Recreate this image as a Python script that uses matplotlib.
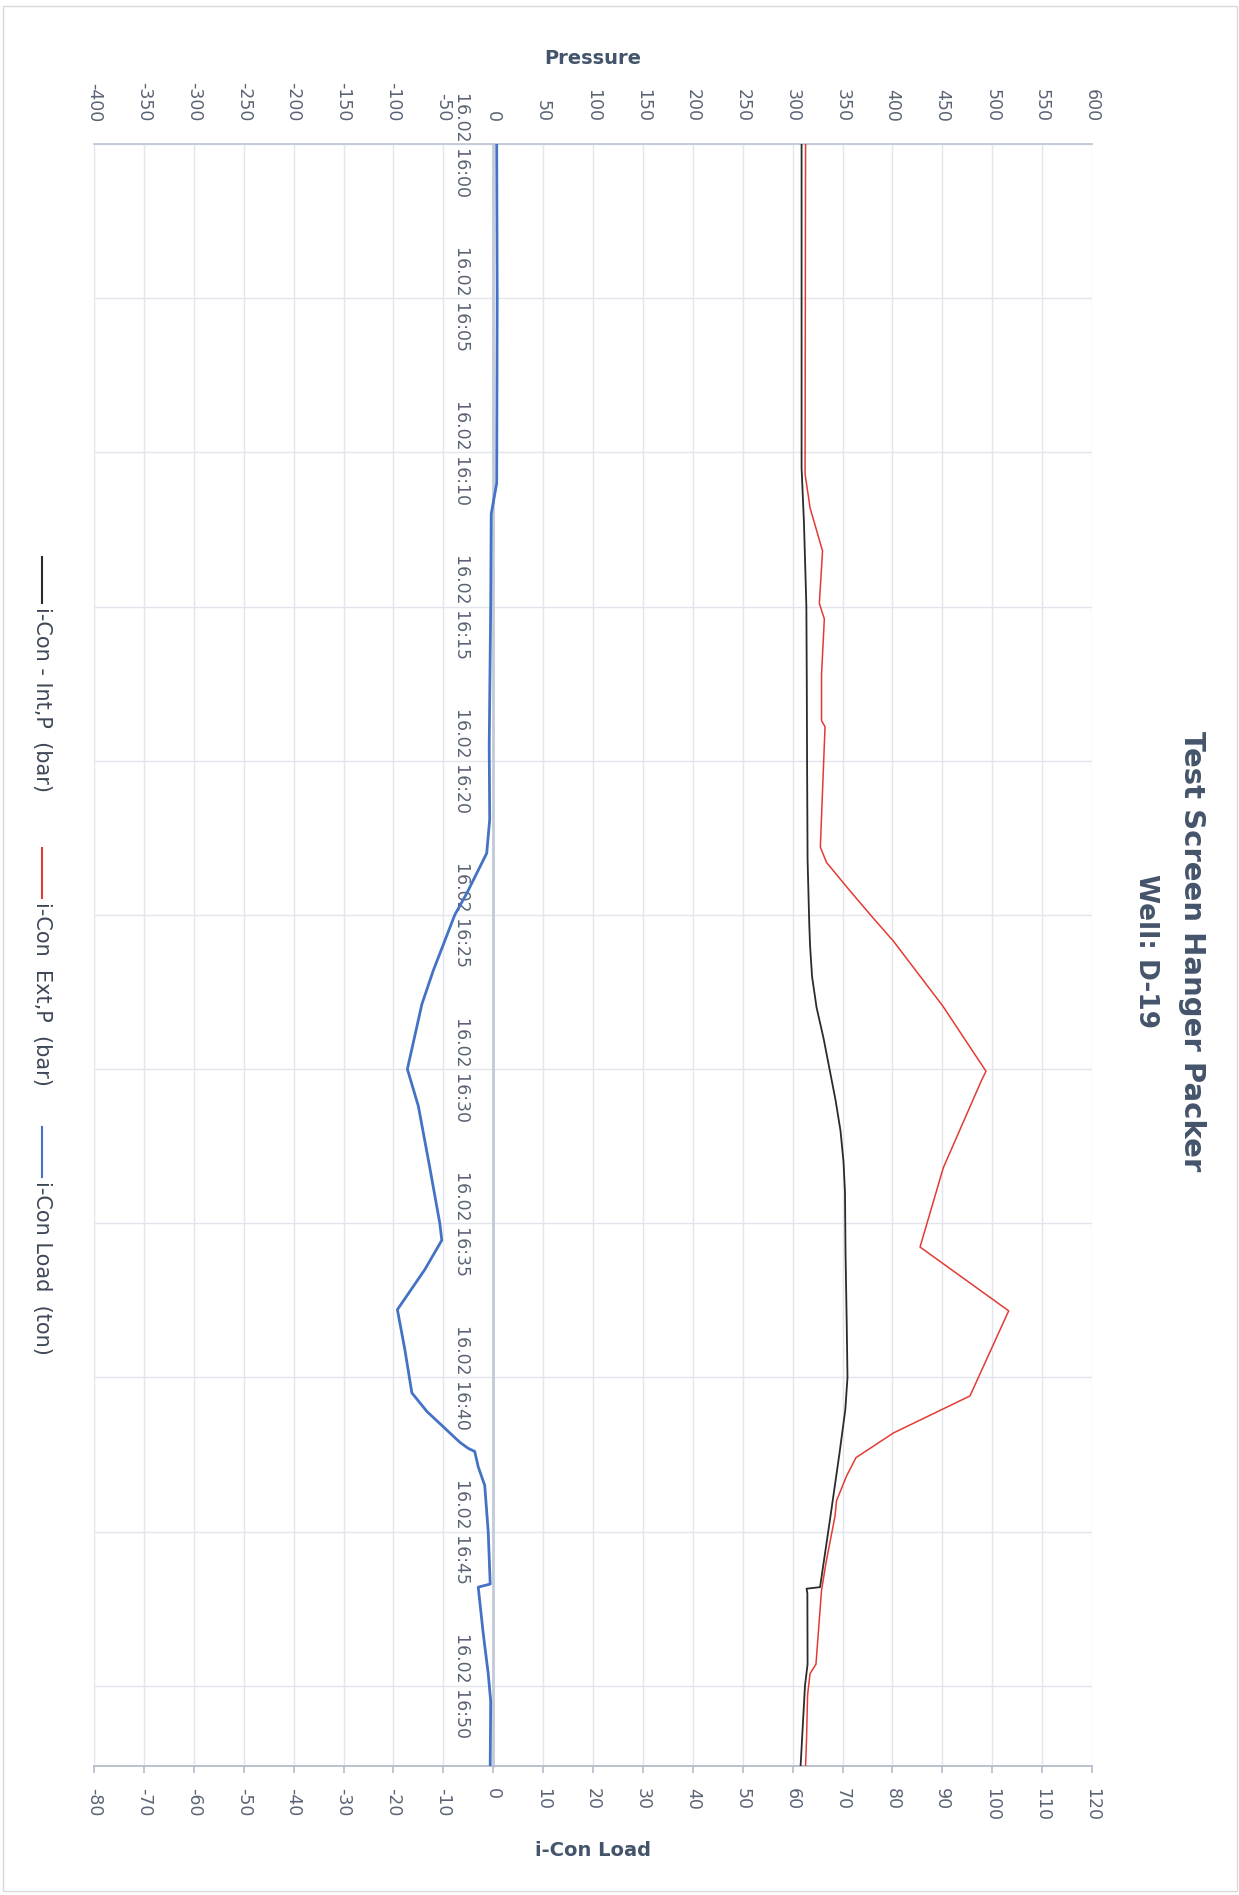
import matplotlib
matplotlib.use('Agg')
import matplotlib.pyplot as plt
from matplotlib.lines import Line2D
from matplotlib.patches import Rectangle

plt.rcParams['font.family'] = ['DejaVu Sans']
plt.rcParams['axes.unicode_minus'] = False

# minutes after 16:00 on 16.02
int_t = [0, 10.5, 12.3, 15.0, 17.4, 20.0, 23.2, 25.3, 26.0, 27.0, 28.0, 29.0, 30.0, 31.0, 32.0,
         33.0, 34.0, 35.9, 38.2, 40.0, 41.05, 42.5, 44.6, 46.8, 46.85, 47.0, 49.3, 50.0, 52.6]
int_p = [309, 309, 311.4, 313.8, 314.2, 314.5, 315, 316.7, 317.5, 319.5, 324, 331, 337, 343, 348,
         351, 352.5, 353, 354.2, 355, 352.8, 346.8, 337.5, 327.5, 314, 314.8, 315, 312.4, 308]

ext_t = [0, 10.7, 11.8, 13.2, 14.9, 15.4, 17.2, 18.7, 18.9, 22.8, 23.3, 24.2, 25.0, 25.85,
         27.95, 30.07, 30.35, 33.2, 35.77, 37.84, 40.6, 41.8, 42.6, 43.2, 44.0, 44.5, 46.0,
         46.9, 49.3, 49.6, 50.3, 51.7, 52.6]
ext_p = [313, 312.5, 317.5, 330, 326.8, 331.8, 329, 329, 332.5, 327.8, 334, 357, 378, 401,
         450.4, 493.8, 489.5, 451, 427.7, 516.5, 477.7, 401, 363.5, 354, 344, 342.5, 333.5,
         329, 323.4, 317.5, 315, 314, 313]

load_t = [0, 5.0, 11.0, 12.0, 15.0, 19.5, 21.9, 23.0, 24.3, 25.0, 26.8, 27.9, 30.0, 31.2, 33.2,
          35.0, 35.55, 36.5, 37.8, 39.1, 40.5, 41.1, 41.6, 42.1, 42.3, 42.4, 42.9, 43.5, 45.0,
          46.7, 46.8, 48.3, 49.6, 50.5, 52.6]
load_v = [0.7, 0.8, 0.7, -0.4, -0.5, -0.8, -0.7, -1.3, -5.3, -7.7, -12.0, -14.3, -17.2, -15.0,
          -12.7, -10.7, -10.3, -13.7, -19.2, -17.7, -16.3, -13.3, -10.0, -6.7, -5.0, -3.7, -3.0,
          -1.7, -1.0, -0.6, -3.0, -2.0, -1.0, -0.5, -0.6]

time_ticks = [0, 5, 10, 15, 20, 25, 30, 35, 40, 45, 50]
time_labels = ['16.02 16:00', '16.02 16:05', '16.02 16:10', '16.02 16:15', '16.02 16:20',
               '16.02 16:25', '16.02 16:30', '16.02 16:35', '16.02 16:40', '16.02 16:45',
               '16.02 16:50']
pressure_ticks = list(range(-400, 601, 50))
load_ticks = list(range(-80, 121, 10))

series_names = ['i-Con - Int,P  (bar)', 'i-Con  Ext,P  (bar)', 'i-Con Load  (ton)']
series_colors = ['#2b2b2b', '#e23b33', '#4472c4']

W, H = 1239, 1895
fig = plt.figure(figsize=(W / 100, H / 100), dpi=100)
ax = fig.add_axes([94 / W, 1 - 1766 / H, (1092 - 94) / W, (1766 - 144) / H])
ax2 = ax.twiny()

txt = '#5a6374'
dark = '#44546a'

# load axis (bottom)
ax.plot(load_v, load_t, color=series_colors[2], lw=2.0, zorder=3)
ax.set_xlim(-80, 120)
ax.set_ylim(52.6, 0)
ax.set_xticks(load_ticks)
ax.set_xticklabels([str(v) for v in load_ticks])
ax.set_yticks(time_ticks)
ax.set_yticklabels(time_labels)
ax.grid(True, color='#e1e5ec', lw=1)
ax.set_axisbelow(True)
ax.spines['left'].set_position(('data', 0))
ax.spines['left'].set_color('#c3cad7')
ax.spines['left'].set_linewidth(2)
ax.spines['right'].set_visible(False)
ax.spines['bottom'].set_color('#b4bccb')
ax.spines['bottom'].set_linewidth(1.3)
ax.spines['top'].set_color('#c0c8d6')
ax.spines['top'].set_linewidth(1.3)
ax.tick_params(axis='x', length=5, width=1.2, color='#b4bccb', pad=11,
               labelrotation=-90, labelsize=12.5, labelcolor=txt)
ax.tick_params(axis='y', length=0, pad=16, labelsize=12.5, labelcolor=txt)
for lab in ax.get_yticklabels():
    lab.set_rotation(-90)
    lab.set_rotation_mode('default')
    lab.set_ha('right')
    lab.set_va('center')

# pressure axis (top)
ax2.plot(int_p, int_t, color=series_colors[0], lw=1.3)
ax2.plot(ext_p, ext_t, color=series_colors[1], lw=1.1)
ax2.set_xlim(-400, 600)
ax2.set_xticks(pressure_ticks)
ax2.set_xticklabels([str(v) for v in pressure_ticks])
ax2.tick_params(axis='x', length=0, pad=16, labelrotation=-90, labelsize=12.5, labelcolor=txt)
for s in ['left', 'right', 'bottom', 'top']:
    ax2.spines[s].set_visible(False)

# axis titles and chart title
fig.text(593 / W, 1 - 58 / H, 'Pressure', ha='center', va='center',
         fontsize=14, fontweight='bold', color=dark)
fig.text(593 / W, 1 - 1850 / H, 'i-Con Load', ha='center', va='center',
         fontsize=14, fontweight='bold', color=dark)
fig.text(1192 / W, 1 - 951 / H, 'Test Screen Hanger Packer', rotation=-90,
         ha='center', va='center', fontsize=21, fontweight='bold', color=dark)
fig.text(1146 / W, 1 - 951 / H, 'Well: D-19', rotation=-90,
         ha='center', va='center', fontsize=19, fontweight='bold', color=dark)

# legend, drawn rotated like the rest of the chart
leg_lines = [(557, 603), (848, 898), (1127, 1177)]
for (y0, y1), name, col in zip(leg_lines, series_names, series_colors):
    fig.add_artist(Line2D([42 / W, 42 / W], [1 - y0 / H, 1 - y1 / H],
                          color=col, lw=1.5, transform=fig.transFigure))
    fig.text(42 / W, 1 - (y1 + 4) / H, name, rotation=-90, ha='center', va='top',
             fontsize=15, color='#3e4757')

# chart border
fig.add_artist(Rectangle((3 / W, 1 - 1891 / H), (1237 - 3) / W, (1891 - 6) / H,
                         transform=fig.transFigure, fill=False, edgecolor='#d9d9d9', lw=1))

fig.savefig('out.png', dpi=100)
